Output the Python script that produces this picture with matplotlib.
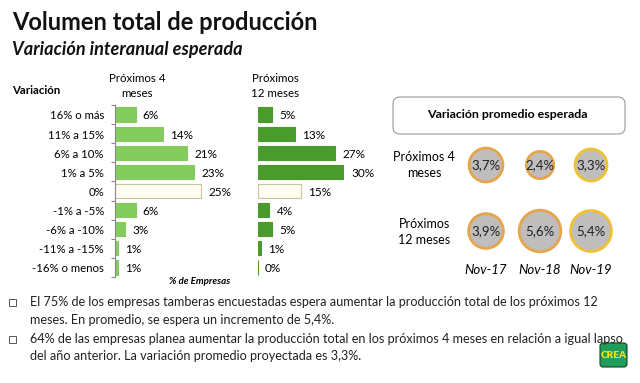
import matplotlib
matplotlib.use("Agg")
import matplotlib.pyplot as plt
from matplotlib.patches import FancyBboxPatch, Circle
import numpy as np

# ---------------- data ----------------
categories = ["16% o más", "11% a 15%", "6% a 10%", "1% a 5%", "0%",
              "-1% a -5%", "-6% a -10%", "-11% a -15%", "-16% o menos"]
prox4 = [6, 14, 21, 23, 25, 6, 3, 1, 1]
prox12 = [5, 13, 27, 30, 15, 4, 5, 1, 0]

periods = ["Nov-17", "Nov-18", "Nov-19"]
prom4 = [3.7, 2.4, 3.3]
prom12 = [3.9, 5.6, 5.4]

W, H = 640, 383
FONT = ["Lato", "DejaVu Sans"]
plt.rcParams["font.family"] = FONT

fig = plt.figure(figsize=(W / 100, H / 100), dpi=100)
fig.patch.set_facecolor("white")
renderer = fig.canvas.get_renderer()

# overlay axes in pixel coordinates
ov = fig.add_axes([0, 0, 1, 1])
ov.set_xlim(0, W)
ov.set_ylim(H, 0)
ov.axis("off")


def px_axes(x0, y0, x1, y1):
    return fig.add_axes([x0 / W, 1 - y1 / H, (x1 - x0) / W, (y1 - y0) / H])


def fit_width(t, target_px):
    w = t.get_window_extent(renderer).width
    if w > 0:
        t.set_fontsize(t.get_fontsize() * target_px / w)
    return t


# titles
fit_width(ov.text(12, 22, "Volumen total de producción", fontsize=17, fontweight="bold",
                  va="center", ha="left", color="#111111"), 306)
fit_width(ov.text(12, 50, "Variación interanual esperada", fontsize=13, fontweight="bold",
                  style="italic", va="center", ha="left", color="#111111"), 230)

ov.text(12, 90, "Variación", fontsize=8.2, fontweight="bold", va="center", ha="left")
ov.text(137, 86, "Próximos 4\nmeses", fontsize=8.3, va="center", ha="center",
        linespacing=1.4)
ov.text(275, 86, "Próximos\n12 meses", fontsize=8.3, va="center", ha="center",
        linespacing=1.4)

# ---------------- bar charts ----------------
n = len(categories)
ypos = np.arange(n)
zero_idx = categories.index("0%")


def bar_panel(ax, vals, color, spine):
    colors = [color] * n
    edges = [color] * n
    colors[zero_idx] = "#fffdf2"
    edges[zero_idx] = "#c9c59c"
    ax.barh(ypos, vals, height=0.74, color=colors, edgecolor=edges, linewidth=0.8)
    ax.set_ylim(n - 0.5, -0.5)
    ax.set_xlim(0, 30)
    for s in ["top", "right", "bottom"]:
        ax.spines[s].set_visible(False)
    ax.spines["left"].set_visible(spine)
    ax.spines["left"].set_color("#888888")
    ax.spines["left"].set_linewidth(0.8)
    ax.set_xticks([])
    ax.set_yticks([])
    if spine:
        ax.set_yticks(np.arange(n + 1) - 0.5, minor=True)
        ax.tick_params(axis="y", which="minor", length=3, color="#888888", width=0.8)
    ax.patch.set_alpha(0)
    for y, v in zip(ypos, vals):
        ax.annotate(f"{v}%", (v, y), xytext=(5, -1), textcoords="offset points",
                    va="center", ha="left", fontsize=8.5, annotation_clip=False)


axL = px_axes(115, 105, 115 + 30 * 3.45, 277)
bar_panel(axL, prox4, "#84cc5e", True)
for y, c in zip(ypos, categories):
    axL.annotate(c, (0, y), xytext=(-8, -1), textcoords="offset points",
                 va="center", ha="right", fontsize=8.2, annotation_clip=False)

axR = px_axes(258, 105, 258 + 30 * 2.87, 277)
bar_panel(axR, prox12, "#4b9a2c", False)

ov.text(200, 282, "% de Empresas", fontsize=7, fontweight="bold",
        style="italic", ha="center", va="center")

# ---------------- right panel ----------------
box = FancyBboxPatch((393, 97), 232, 37, boxstyle="round,pad=0,rounding_size=7",
                     facecolor="white", edgecolor="#9a9a9a", linewidth=0.8)
ov.add_patch(box)
ov.text(507, 115, "Variación promedio esperada", fontsize=8.9, fontweight="bold",
        ha="center", va="center")

ov.text(424, 165, "Próximos 4\nmeses", fontsize=9, ha="center", va="center",
        linespacing=1.4)
ov.text(424, 232, "Próximos\n12 meses", fontsize=9, ha="center", va="center",
        linespacing=1.4)

col_x = [486, 540, 591]
row_y = [165, 231]
edge_cols = ["#e5a54a", "#e5a54a", "#f0c233"]
for ry, vals in zip(row_y, [prom4, prom12]):
    for cx, v, ec in zip(col_x, vals, edge_cols):
        r = 8.8 * np.sqrt(v)
        ov.add_patch(Circle((cx, ry), r, facecolor="#c0bdbd", edgecolor=ec,
                            linewidth=2.0))
        label = f"{v:.1f}".replace(".", ",") + "%"
        ov.text(cx, ry, label, fontsize=9.5, ha="center", va="center",
                color="#222222")

for cx, p in zip(col_x, periods):
    ov.text(cx, 270, p, fontsize=9.5, style="italic", ha="center", va="center")

# ---------------- bottom text ----------------
lines = [
    (302, True, "El 75% de los empresas tamberas encuestadas espera aumentar la producción total de los próximos 12"),
    (320, False, "meses. En promedio, se espera un incremento de 5,4%."),
    (339, True, "64% de las empresas planea aumentar la producción total en los próximos 4 meses en relación a igual lapso"),
    (356, False, "del año anterior. La variación promedio proyectada es 3,3%."),
]
txts = []
for y, bullet, txt in lines:
    if bullet:
        ov.add_patch(plt.Rectangle((9, y - 3.5), 7, 7, facecolor="white",
                                   edgecolor="#555555", linewidth=0.7))
    txts.append(ov.text(30, y, txt, fontsize=9, ha="left", va="center",
                        color="#222222"))
fit_width(txts[2], 597)
for t in txts:
    t.set_fontsize(txts[2].get_fontsize())

# CREA logo
logo = FancyBboxPatch((600, 343), 27, 24, boxstyle="round,pad=0,rounding_size=3",
                      facecolor="#1e9e5a", edgecolor="#17422a", linewidth=0.8)
ov.add_patch(logo)
ov.text(613.5, 355.5, "CREA", fontsize=7.2, fontweight="heavy", color="#f3e21a",
        ha="center", va="center")

fig.savefig("out.png", dpi=100)
